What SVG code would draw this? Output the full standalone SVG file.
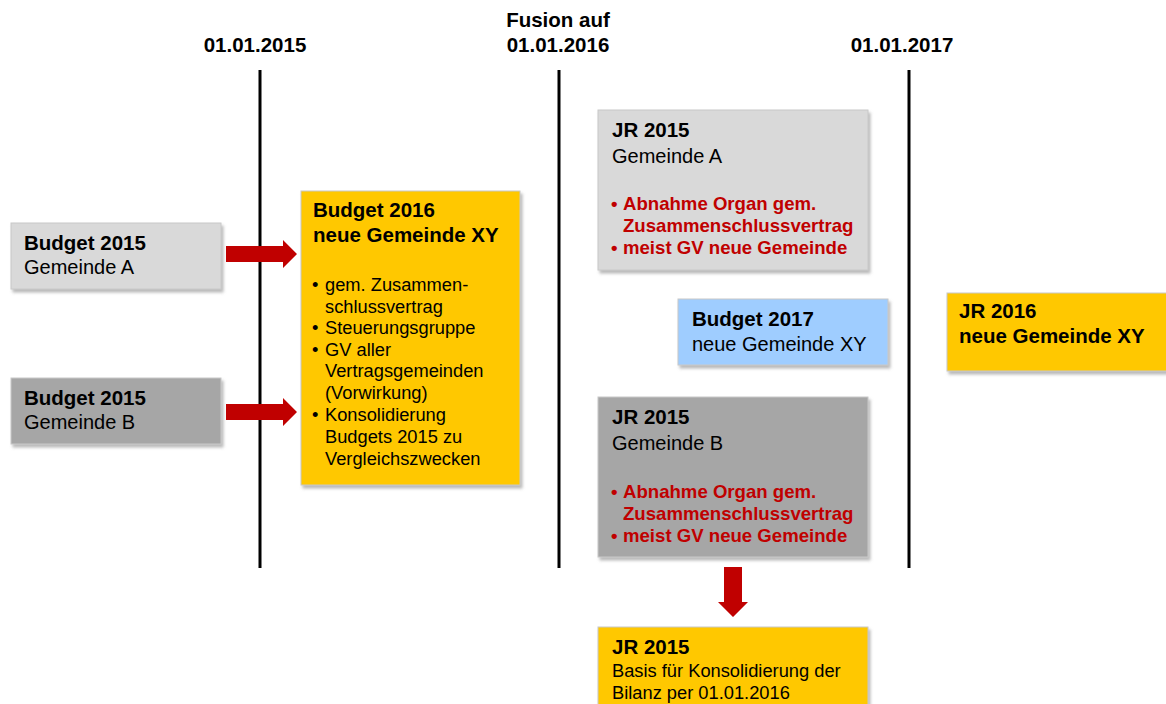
<svg xmlns="http://www.w3.org/2000/svg" width="1166" height="704" viewBox="0 0 1166 704">
<style>
text{font-family:"Liberation Sans",Arial,sans-serif;fill:#000}
.hd{font-size:20.5px;font-weight:bold;text-anchor:middle}
.t{font-size:20.5px;font-weight:bold}
.s{font-size:20px}
.b{font-size:18.3px}
.r{font-size:18.6px;font-weight:bold;fill:#c00000}
.box{stroke:#c8c8c8;stroke-width:1;filter:url(#sh)}
.lg{fill:#d9d9d9}.dg{fill:#a6a6a6}.ye{fill:#ffc800}.bl{fill:#9fcdff}
.tl{stroke:#000;stroke-width:3}
.ar{fill:#c00000}
</style>
<defs>
<filter id="sh" x="-10%" y="-10%" width="130%" height="130%">
<feDropShadow dx="2" dy="3" stdDeviation="1.5" flood-color="#808080" flood-opacity="0.55"/>
</filter>
</defs>
<rect width="1166" height="704" fill="#fff"/>
<g id="timeline">
<line class="tl" x1="260" y1="70" x2="260" y2="568"/>
<line class="tl" x1="559" y1="70" x2="559" y2="568"/>
<line class="tl" x1="909" y1="70" x2="909" y2="568"/>
<text class="hd" x="255" y="52">01.01.2015</text>
<text class="hd" x="558" y="27">Fusion auf</text>
<text class="hd" x="558" y="52">01.01.2016</text>
<text class="hd" x="902" y="52">01.01.2017</text>
</g>
<g id="budgetA">
<rect class="box lg" x="11" y="223" width="210" height="66"/>
<text class="t" x="24" y="250">Budget 2015</text>
<text class="s" x="24" y="274">Gemeinde A</text>
</g>
<g id="budgetB">
<rect class="box dg" x="11" y="378" width="210" height="66"/>
<text class="t" x="24" y="405">Budget 2015</text>
<text class="s" x="24" y="429">Gemeinde B</text>
</g>
<g id="budget2016">
<rect class="box ye" x="301" y="191" width="219" height="294"/>
<text class="t" x="313" y="217">Budget 2016</text>
<text class="t" x="313" y="242">neue Gemeinde XY</text>
<text class="b"><tspan x="312" y="291">•</tspan><tspan x="325" y="291">gem. Zusammen-</tspan><tspan x="325" y="313">schlussvertrag</tspan><tspan x="312" y="334">•</tspan><tspan x="325" y="334">Steuerungsgruppe</tspan><tspan x="312" y="356">•</tspan><tspan x="325" y="356">GV aller</tspan><tspan x="325" y="377">Vertragsgemeinden</tspan><tspan x="325" y="399">(Vorwirkung)</tspan><tspan x="312" y="421">•</tspan><tspan x="325" y="421">Konsolidierung</tspan><tspan x="325" y="443">Budgets 2015 zu</tspan><tspan x="325" y="465">Vergleichszwecken</tspan></text>
</g>
<g id="jrA">
<rect class="box lg" x="598" y="110" width="270" height="160"/>
<text class="t" x="612" y="137">JR 2015</text>
<text class="s" x="612" y="163">Gemeinde A</text>
<text class="r"><tspan x="611" y="210">•</tspan><tspan x="623" y="210">Abnahme Organ gem.</tspan><tspan x="623" y="232">Zusammenschlussvertrag</tspan><tspan x="611" y="254">•</tspan><tspan x="623" y="254">meist GV neue Gemeinde</tspan></text>
</g>
<g id="budget2017">
<rect class="box bl" x="678" y="299" width="210" height="66"/>
<text class="t" x="692" y="326">Budget 2017</text>
<text class="s" x="692" y="351">neue Gemeinde XY</text>
</g>
<g id="jr2016">
<rect class="box ye" x="947" y="293" width="225" height="78"/>
<text class="t" x="959" y="318">JR 2016</text>
<text class="t" x="959" y="343">neue Gemeinde XY</text>
</g>
<g id="jrB">
<rect class="box dg" x="598" y="397" width="270" height="160"/>
<text class="t" x="612" y="424">JR 2015</text>
<text class="s" x="612" y="450">Gemeinde B</text>
<text class="r"><tspan x="611" y="498">•</tspan><tspan x="623" y="498">Abnahme Organ gem.</tspan><tspan x="623" y="520">Zusammenschlussvertrag</tspan><tspan x="611" y="542">•</tspan><tspan x="623" y="542">meist GV neue Gemeinde</tspan></text>
</g>
<g id="jrBasis">
<rect class="box ye" x="598" y="627" width="270" height="90"/>
<text class="t" x="612" y="654">JR 2015</text>
<text class="b"><tspan x="612" y="677">Basis für Konsolidierung der</tspan><tspan x="612" y="699">Bilanz per 01.01.2016</tspan></text>
</g>
<g id="connectors">
<polygon class="ar" points="226,246 283,246 283,240 297,254 283,268 283,262 226,262"/>
<polygon class="ar" points="226,404 283,404 283,398 297,412 283,426 283,420 226,420"/>
<polygon class="ar" points="724,567 742,567 742,602 748,602 733,617 718,602 724,602"/>
</g>
</svg>
